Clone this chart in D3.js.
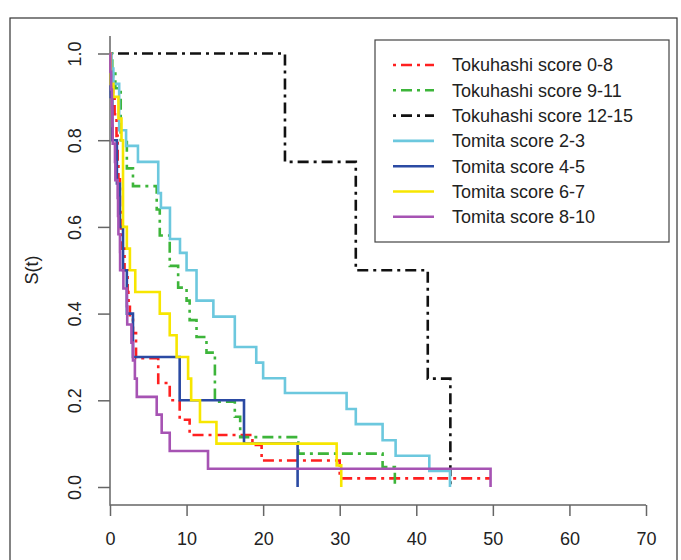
<!DOCTYPE html>
<head>
<meta charset="utf-8">
<script src="https://d3js.org/d3.v7.min.js"></script>
<style>
  body { margin: 0; background: #fff; }
  svg text { font-family: "Liberation Sans", Arial, Helvetica, sans-serif; fill: #222; }
</style>
</head>
<body>
<div id="vis"></div>
<script>
// ---- data ----
var labels = ["Tokuhashi score 0-8", "Tokuhashi score 9-11", "Tokuhashi score 12-15",
              "Tomita score 2-3", "Tomita score 4-5", "Tomita score 6-7", "Tomita score 8-10"];

// event times (months) and survival after each event
var tok08_t = [0.2, 0.4, 0.6, 0.85, 1.0, 1.1, 1.3, 1.4, 1.6, 1.9, 2.3, 2.4, 2.6, 3.0, 3.4, 6.3, 7.8, 9.1, 10.4, 18.6, 19.8, 30.0];
var tok08_s = [0.95, 0.90, 0.86, 0.81, 0.74, 0.71, 0.64, 0.59, 0.55, 0.50, 0.45, 0.43, 0.39, 0.355, 0.297, 0.24, 0.20, 0.155, 0.12, 0.097, 0.061, 0.02];
var tok08_end = 49.7;

var tok911_t = [0.3, 0.7, 1.4, 2.2, 3.0, 6.1, 6.5, 7.8, 8.9, 10.0, 10.4, 11.3, 12.6, 13.7, 16.3, 17.0, 24.6, 35.6, 37.2];
var tok911_s = [0.96, 0.92, 0.80, 0.735, 0.694, 0.64, 0.58, 0.51, 0.46, 0.43, 0.385, 0.346, 0.31, 0.197, 0.162, 0.115, 0.077, 0.046, 0];
var tok911_end = 37.2;

var tok1215_t = [22.85, 32.1, 41.5, 44.45];
var tok1215_s = [0.75, 0.5, 0.25, 0];
var tok1215_end = 44.45;

var tom23_t = [0.2, 0.44, 1.2, 2.1, 3.65, 6.3, 6.65, 7.83, 9.14, 10.0, 11.3, 13.5, 16.3, 19.1, 20.0, 22.85, 30.9, 32.1, 35.6, 37.3, 41.7, 44.4];
var tom23_s = [0.965, 0.93, 0.823, 0.787, 0.75, 0.678, 0.644, 0.572, 0.54, 0.50, 0.43, 0.393, 0.323, 0.287, 0.251, 0.217, 0.18, 0.145, 0.108, 0.072, 0.037, 0];
var tom23_end = 44.4;

var tom45_t = [0.1, 0.3, 0.9, 1.3, 1.7, 2.2, 3.0, 9.1, 17.5, 24.5];
var tom45_s = [0.9, 0.8, 0.7, 0.6, 0.5, 0.4, 0.3, 0.2, 0.1, 0];
var tom45_end = 24.5;

var tom67_t = [0.1, 0.45, 1.1, 1.5, 1.7, 2.2, 2.6, 3.3, 6.5, 7.8, 8.7, 10.2, 10.6, 11.75, 13.9, 29.6, 30.2];
var tom67_s = [0.93, 0.9, 0.85, 0.8, 0.6, 0.55, 0.5, 0.45, 0.4, 0.35, 0.3, 0.25, 0.2, 0.15, 0.1, 0.05, 0];
var tom67_end = 30.2;

var tom810_t = [0.05, 0.15, 0.25, 0.3, 0.35, 0.65, 0.7, 1.0, 1.05, 1.1, 1.3, 1.32, 1.75, 2.2, 2.25, 2.8, 3.0, 3.25, 3.5, 6.1, 6.75, 7.8, 12.8, 49.7];
var tom810_s = [0.958, 0.917, 0.875, 0.833, 0.792, 0.75, 0.708, 0.667, 0.625, 0.583, 0.542, 0.50, 0.458, 0.417, 0.375, 0.333, 0.292, 0.25, 0.208, 0.167, 0.125, 0.083, 0.042, 0];
var tom810_end = 49.7;

var xTicks = [0, 10, 20, 30, 40, 50, 60, 70];
var yTicks = [0, 0.2, 0.4, 0.6, 0.8, 1.0];

// ---- styles ----
var colors = ["#ff2020", "#3db53a", "#111111", "#6cc8de", "#2b4aa3", "#f7e600", "#a653b3"];
var dotdash = "3,5,11,5";
var dashes = [dotdash, dotdash, dotdash, null, null, null, null];

var curves = [
  [tok08_t, tok08_s, tok08_end],
  [tok911_t, tok911_s, tok911_end],
  [tok1215_t, tok1215_s, tok1215_end],
  [tom23_t, tom23_s, tom23_end],
  [tom45_t, tom45_s, tom45_end],
  [tom67_t, tom67_s, tom67_end],
  [tom810_t, tom810_s, tom810_end]
].map(function(c) {
  var pts = [[0, 1]];
  c[0].forEach(function(t, i) { pts.push([t, c[1][i]]); });
  var last = pts[pts.length - 1];
  if (c[2] > last[0]) pts.push([c[2], last[1]]);
  return pts;
});

var W = 681, H = 560;
var svg = d3.select("#vis").append("svg").attr("width", W).attr("height", H);

// outer frame
svg.append("rect").attr("x", 10).attr("y", 18).attr("width", 667).attr("height", 600)
  .attr("fill", "none").attr("stroke", "#333").attr("stroke-width", 1.2);

var x = d3.scaleLinear().domain([0, 70]).range([110, 646]);
var y = d3.scaleLinear().domain([0, 1]).range([487, 53.5]);

var axisCol = "#666";

// L-shaped frame
svg.append("path")
  .attr("d", "M110,36V505H646")
  .attr("fill", "none").attr("stroke", axisCol).attr("stroke-width", 1.5);

var gx = svg.append("g").attr("transform", "translate(0,505)")
  .call(d3.axisBottom(x).tickValues(xTicks).tickSize(11).tickPadding(16).tickFormat(d3.format("d")));
gx.select(".domain").remove();
gx.selectAll("line").attr("stroke", axisCol).attr("stroke-width", 1.5);
gx.selectAll("text").attr("font-size", 18).attr("fill", "#222");

var gy = svg.append("g").attr("transform", "translate(110,0)")
  .call(d3.axisLeft(y).tickValues(yTicks).tickSize(12).tickFormat(d3.format(".1f")));
gy.select(".domain").remove();
gy.selectAll("line").attr("stroke", axisCol).attr("stroke-width", 1.5);
gy.selectAll("text")
  .attr("font-size", 18).attr("fill", "#222")
  .attr("x", null).attr("dy", null)
  .attr("text-anchor", "middle")
  .attr("transform", "translate(-29,0) rotate(-90)");

svg.append("text")
  .attr("transform", "translate(38,270) rotate(-90)")
  .attr("text-anchor", "middle")
  .attr("font-size", 18)
  .text("S(t)");

// curves
var line = d3.line()
  .x(function(d) { return x(d[0]); })
  .y(function(d) { return y(d[1]); })
  .curve(d3.curveStepAfter);

curves.forEach(function(pts, i) {
  svg.append("path")
    .attr("d", line(pts))
    .attr("fill", "none")
    .attr("stroke", colors[i])
    .attr("stroke-width", 2.6)
    .attr("stroke-dasharray", dashes[i])
    .attr("stroke-linejoin", "miter");
});

// legend
var leg = svg.append("g");
leg.append("rect").attr("x", 375).attr("y", 40).attr("width", 294).attr("height", 202)
  .attr("fill", "#fff").attr("stroke", "#444").attr("stroke-width", 1.2);

labels.forEach(function(lab, i) {
  var cy = 65 + i * 25.3;
  leg.append("line")
    .attr("x1", 393).attr("x2", 434).attr("y1", cy).attr("y2", cy)
    .attr("stroke", colors[i]).attr("stroke-width", 2.6)
    .attr("stroke-dasharray", dashes[i]);
  leg.append("text")
    .attr("x", 452).attr("y", cy).attr("dy", "0.36em")
    .attr("font-size", 18)
    .text(lab);
});
</script>
</body>
